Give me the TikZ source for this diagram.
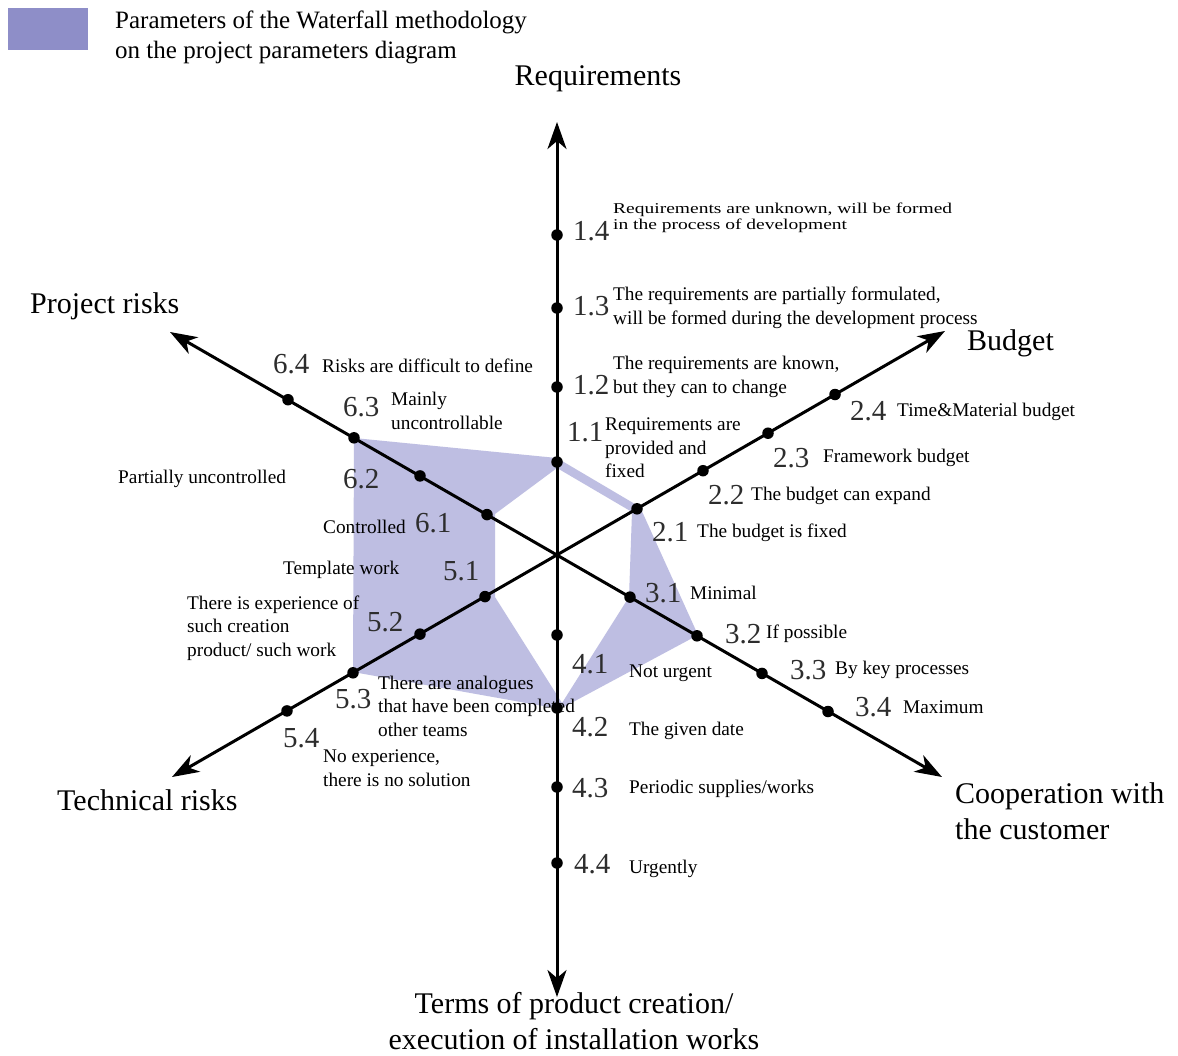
\documentclass[tikz,border=0pt]{standalone}
\usepackage{fontspec}
\setmainfont{Liberation Serif}
\newfontfamily\widefont[FakeStretch=1.3]{Liberation Serif}
\usetikzlibrary{arrows.meta}
\definecolor{bandfill}{RGB}{190,190,226}
\definecolor{legendfill}{RGB}{142,142,200}
\definecolor{numgray}{RGB}{45,45,45}
\begin{document}
\begin{tikzpicture}[x=1pt,y=-1pt,
  axisline/.style={line width=3pt,
    {Stealth[length=27pt,width=19pt,inset=8pt]}-{Stealth[length=27pt,width=19pt,inset=8pt]}},
  dot/.style={circle,fill=black,inner sep=0pt,minimum size=11.5pt},
  num/.style={anchor=west,inner sep=0pt,font=\fontsize{29}{30}\selectfont,text=numgray},
  desc/.style={anchor=west,inner sep=0pt,align=left,font=\fontsize{19.3}{23.5}\selectfont},
  tiny/.style={anchor=west,inner sep=0pt,align=left,font=\widefont\fontsize{15}{16}\selectfont},
  axlabel/.style={inner sep=0pt,font=\fontsize{30}{36}\selectfont}]

\useasboundingbox[fill=white] (0,0) rectangle (1178,1055);

% ---- legend ----
\node[draw=none,fill=legendfill,minimum width=80pt,minimum height=42pt,inner sep=0pt,anchor=north west] (legbox) at (8,8) {};
\node[anchor=west,inner sep=0pt,align=left,font=\fontsize{25}{30}\selectfont] (legtext) at (115,37)
  {Parameters of the Waterfall methodology\\on the project parameters diagram};

% ---- centre and axis tips ----
\coordinate (O) at (557,555);
\coordinate (tipReq) at (557,122);
\coordinate (tipTerm) at (557,997);
\coordinate (tipBud) at (945,331);
\coordinate (tipCoop) at (942,777);
\coordinate (tipProj) at (170,332);
\coordinate (tipTech) at (172,777);

% ---- Waterfall profile (band between outer and inner outline) ----
\fill[bandfill,even odd rule]
  (354,438) -- (557,458) -- (640,507) -- (698,635) -- (560,709) -- (353,672) -- cycle
  (495,514) -- (557,468) -- (632,512) -- (629,597) -- (562,703) -- (495,597) -- cycle;

% ---- axis titles ----
\node[axlabel] (lReq) at (598,79) {Requirements};
\node[axlabel,anchor=west] (lBud) at (967,343) {Budget};
\node[axlabel,anchor=west] (lProj) at (30,306) {Project risks};
\node[axlabel,anchor=west] (lTech) at (57,800) {Technical risks};
\node[axlabel,anchor=west,align=left] (lCoop) at (955,811) {Cooperation with\\the customer};
\node[axlabel,align=center] (lTerm) at (574,1021) {Terms of product creation/\\execution of installation works};

% ---- requirements ----
\node[num] (n14) at (573,231) {1.4};
\node[tiny] (d14) at (613,218) {Requirements are unknown, will be formed\\in the process of development};
\node[num] (n13) at (573,306) {1.3};
\node[desc] (d13) at (613,308) {The requirements are partially formulated,\\will be formed during the development process};
\node[num] (n12) at (573,385) {1.2};
\node[desc] (d12) at (613,377) {The requirements are known,\\but they can to change};
\node[num] (n11) at (567,432) {1.1};
\node[desc] (d11) at (605,448) {Requirements are\\provided and\\fixed};

% ---- budget ----
\node[num] (n21) at (652,532) {2.1};
\node[desc] (d21) at (697,533) {The budget is fixed};
\node[num] (n22) at (708,495) {2.2};
\node[desc] (d22) at (751,496) {The budget can expand};
\node[num] (n23) at (773,458) {2.3};
\node[desc] (d23) at (823,458) {Framework budget};
\node[num] (n24) at (850,411) {2.4};
\node[desc] (d24) at (897,412) {Time\&Material budget};

% ---- cooperation with the customer ----
\node[num] (n31) at (645,593) {3.1};
\node[desc] (d31) at (690,593) {Minimal};
\node[num] (n32) at (725,634) {3.2};
\node[desc] (d32) at (766,634) {If possible};
\node[num] (n33) at (790,670) {3.3};
\node[desc] (d33) at (835,670) {By key processes};
\node[num] (n34) at (855,707) {3.4};
\node[desc] (d34) at (903,707) {Maximum};

% ---- terms ----
\node[num] (n41) at (572,664) {4.1};
\node[desc] (d41) at (629,673) {Not urgent};
\node[num] (n42) at (572,727) {4.2};
\node[desc] (d42) at (629,731) {The given date};
\node[num] (n43) at (572,788) {4.3};
\node[desc] (d43) at (629,789) {Periodic supplies/works};
\node[num] (n44) at (574,864) {4.4};
\node[desc] (d44) at (629,869) {Urgently};

% ---- project risks ----
\node[num] (n64) at (273,364) {6.4};
\node[desc] (d64) at (322,366) {Risks are difficult to define};
\node[num] (n63) at (343,407) {6.3};
\node[desc] (d63) at (391,411) {Mainly\\uncontrollable};
\node[num] (n62) at (343,479) {6.2};
\node[desc] (d62) at (118,479) {Partially uncontrolled};
\node[num] (n61) at (415,523) {6.1};
\node[desc] (d61) at (323,527) {Controlled};

% ---- technical risks ----
\node[num] (n51) at (443,571) {5.1};
\node[desc] (d51) at (283,570) {Template work};
\node[num] (n52) at (367,622) {5.2};
\node[desc] (d52) at (187,628) {There is experience of\\such creation\\product/ such work};
\node[num] (n53) at (335,699) {5.3};
\node[desc] (d53) at (378,706) {There are analogues\\that have been completed\\other teams};
\node[num] (n54) at (283,738) {5.4};
\node[desc] (d54) at (323,768) {No experience,\\there is no solution};

% ---- axes ----
\draw[axisline] (tipTerm) -- (tipReq);
\draw[axisline] (tipProj) -- (tipCoop);
\draw[axisline] (tipTech) -- (tipBud);

% ---- scale marks ----
\node[dot] (p11) at (557,462) {};
\node[dot] (p12) at (557,387) {};
\node[dot] (p13) at (557,308) {};
\node[dot] (p14) at (557,235) {};
\node[dot] (p41) at (557,635) {};
\node[dot] (p42) at (557,708) {};
\node[dot] (p43) at (557,787) {};
\node[dot] (p44) at (557,863) {};
\node[dot] (p21) at (637,508.8) {};
\node[dot] (p22) at (703,470.7) {};
\node[dot] (p23) at (768,433.2) {};
\node[dot] (p24) at (835,394.5) {};
\node[dot] (p31) at (630,597.1) {};
\node[dot] (p32) at (697,635.8) {};
\node[dot] (p33) at (762,673.4) {};
\node[dot] (p34) at (828,711.5) {};
\node[dot] (p61) at (487,514.6) {};
\node[dot] (p62) at (420,475.9) {};
\node[dot] (p63) at (354,437.8) {};
\node[dot] (p64) at (288,399.7) {};
\node[dot] (p51) at (485,596.6) {};
\node[dot] (p52) at (420,634.1) {};
\node[dot] (p53) at (353,672.8) {};
\node[dot] (p54) at (287,710.9) {};
\end{tikzpicture}
\end{document}
